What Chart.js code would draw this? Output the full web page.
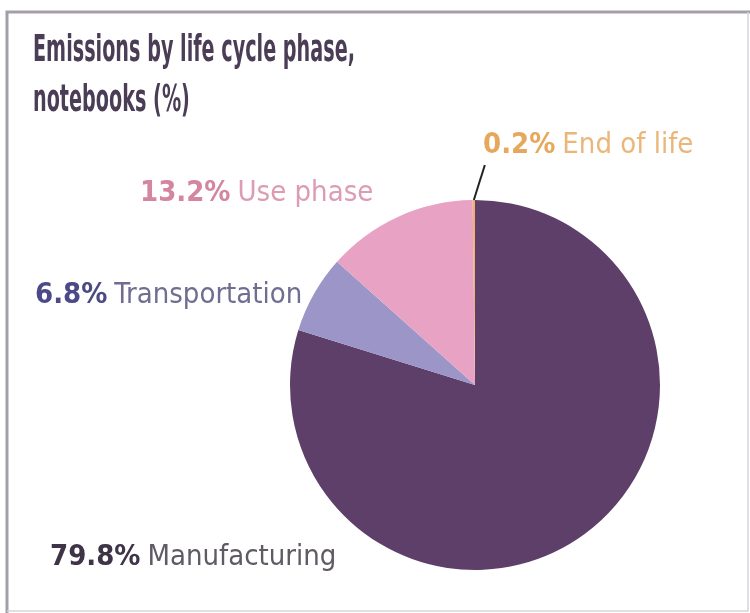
<!DOCTYPE html>
<html lang="en">
<head>
<meta charset="UTF-8">
<title>Emissions by life cycle phase</title>
<script src="https://cdn.jsdelivr.net/npm/chart.js"></script>
<style>
  html, body { margin: 0; padding: 0; background: #fff; }
  #wrap { width: 750px; height: 613px; position: relative; }
</style>
</head>
<body>
<div id="wrap"><canvas id="pieChart"></canvas></div>
<script>
// data
const phases = ['Manufacturing', 'Transportation', 'Use phase', 'End of life'];
const shares = [79.8, 6.8, 13.2, 0.2];
const sliceColors = ['#5e3f6a', '#9b95c8', '#e8a2c3', '#f0b070'];

// label styling: bold share colour, name colour, anchor (left x, middle y)
const labelStrong = ['#3f3347', '#4b4a86', '#d4869f', '#e6a85c'];
const labelSoft = ['#5f5a64', '#6f6e92', '#dc9cb5', '#eab67a'];
const labelPos = [[50, 557], [35, 295], [140, 193], [483, 145]];

const FONT = '"DejaVu Sans Condensed", "Liberation Sans Narrow", sans-serif';

// draw text squeezed horizontally to look like a condensed face
function squeezed(ctx, text, x, y, sx) {
  ctx.save();
  ctx.scale(sx, 1);
  ctx.fillText(text, x / sx, y);
  ctx.restore();
  return ctx.measureText(text).width * sx;
}

const decor = {
  id: 'decor',
  beforeDraw(chart) {
    const ctx = chart.ctx;
    ctx.save();
    // frame
    ctx.strokeStyle = '#a39eaa';
    ctx.lineWidth = 3;
    ctx.beginPath();
    ctx.moveTo(7, 613);
    ctx.lineTo(7, 12);
    ctx.lineTo(750, 12);
    ctx.stroke();
    ctx.lineWidth = 1.5;
    ctx.strokeStyle = '#d8d4dc';
    ctx.beginPath();
    ctx.moveTo(7, 611);
    ctx.lineTo(748, 611);
    ctx.lineTo(748, 12);
    ctx.stroke();

    // title
    ctx.fillStyle = '#4a3d55';
    ctx.textBaseline = 'alphabetic';
    ctx.font = 'bold 38px ' + FONT;
    const w = ctx.measureText('Emissions by life cycle phase,').width;
    const sx = 322 / w;
    squeezed(ctx, 'Emissions by life cycle phase,', 33, 61, sx);
    squeezed(ctx, 'notebooks (%)', 33, 111, sx);
    ctx.restore();
  },
  afterDatasetsDraw(chart) {
    const ctx = chart.ctx;
    const arcs = chart.getDatasetMeta(0).data;
    ctx.save();

    // leader line for the tiny slice
    const last = arcs[arcs.length - 1];
    const mid = (last.startAngle + last.endAngle) / 2;
    const sx = last.x + last.outerRadius * Math.cos(mid);
    const sy = last.y + last.outerRadius * Math.sin(mid);
    ctx.strokeStyle = '#222';
    ctx.lineWidth = 2;
    ctx.beginPath();
    ctx.moveTo(sx, sy);
    ctx.lineTo(sx + 11, sy - 35);
    ctx.stroke();

    // labels
    ctx.textBaseline = 'middle';
    phases.forEach((name, i) => {
      const [x, y] = labelPos[i];
      const pct = shares[i].toFixed(1) + '%';
      ctx.font = 'bold 29px ' + FONT;
      ctx.fillStyle = labelStrong[i];
      const w = ctx.measureText(pct).width;
      ctx.fillText(pct, x, y);
      ctx.font = '29px ' + FONT;
      ctx.fillStyle = labelSoft[i];
      ctx.fillText(name, x + w + 7, y);
    });
    ctx.restore();
  }
};

new Chart(document.getElementById('pieChart'), {
  type: 'pie',
  data: {
    labels: phases,
    datasets: [{
      data: shares,
      backgroundColor: sliceColors,
      borderWidth: 0
    }]
  },
  options: {
    responsive: true,
    maintainAspectRatio: false,
    animation: false,
    layout: {
      padding: { left: 290, right: 90, top: 200, bottom: 43 }
    },
    plugins: {
      legend: { display: false },
      tooltip: { enabled: false }
    }
  },
  plugins: [decor]
});
</script>
</body>
</html>
